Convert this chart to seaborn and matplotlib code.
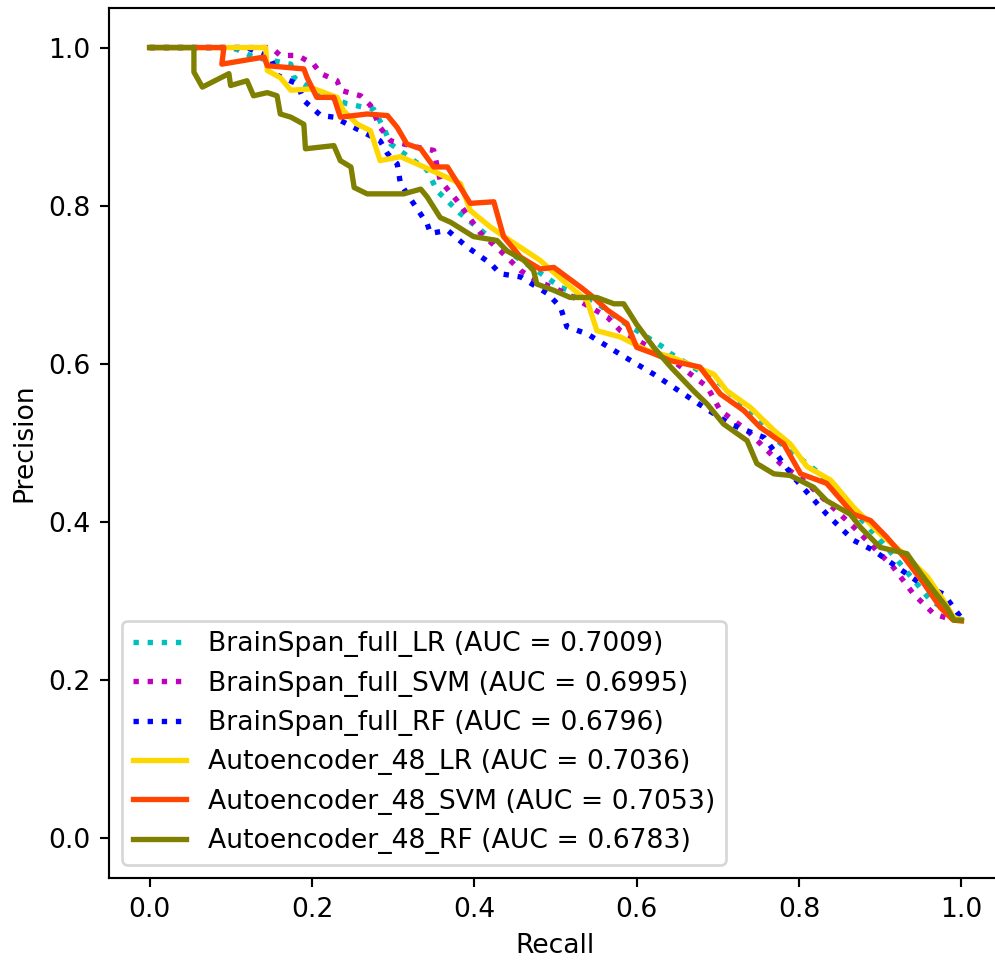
import pandas as pd
import matplotlib
matplotlib.use("Agg")
import matplotlib.pyplot as plt
import seaborn as sns

# --- curve values (recall, precision) ---
bs_lr_recall = [0.0, 0.10, 0.112, 0.128, 0.174, 0.178, 0.202, 0.243, 0.276, 0.288, 0.297, 0.342, 0.354,
                0.383, 0.408, 0.440, 0.477, 0.506, 0.547, 0.580, 0.633, 0.642, 0.703, 0.773, 0.826,
                0.908, 0.962, 0.995, 1.0]
bs_lr_prec = [1.0, 1.0, 0.996, 0.988, 0.979, 0.962, 0.946, 0.929, 0.922, 0.899, 0.878, 0.845, 0.819,
              0.790, 0.769, 0.743, 0.718, 0.697, 0.680, 0.655, 0.621, 0.613, 0.575, 0.503, 0.461,
              0.368, 0.301, 0.280, 0.276]

bs_svm_recall = [0.0, 0.15, 0.161, 0.182, 0.202, 0.211, 0.231, 0.235, 0.260, 0.272, 0.284, 0.297, 0.338,
                 0.350, 0.358, 0.379, 0.408, 0.432, 0.457, 0.477, 0.514, 0.564, 0.580, 0.642, 0.687,
                 0.703, 0.736, 0.777, 0.810, 0.867, 0.916, 0.941, 0.966, 0.99, 1.0]
bs_svm_prec = [1.0, 1.0, 0.990, 0.990, 0.979, 0.967, 0.958, 0.946, 0.939, 0.927, 0.899, 0.882, 0.872,
               0.870, 0.832, 0.806, 0.765, 0.743, 0.718, 0.705, 0.689, 0.659, 0.642, 0.606, 0.571,
               0.541, 0.516, 0.474, 0.449, 0.394, 0.343, 0.309, 0.284, 0.276, 0.276]

bs_rf_recall = [0.0, 0.12, 0.133, 0.149, 0.157, 0.182, 0.190, 0.211, 0.227, 0.284, 0.293, 0.305, 0.309,
                0.325, 0.342, 0.346, 0.367, 0.391, 0.420, 0.432, 0.457, 0.490, 0.506, 0.514, 0.539,
                0.580, 0.621, 0.683, 0.715, 0.757, 0.793, 0.834, 0.867, 0.892, 0.921, 0.950, 0.978,
                0.999, 1.0]
bs_rf_prec = [1.0, 1.0, 0.994, 0.988, 0.965, 0.954, 0.933, 0.914, 0.912, 0.882, 0.866, 0.853, 0.828,
              0.803, 0.777, 0.765, 0.769, 0.748, 0.727, 0.714, 0.710, 0.689, 0.672, 0.647, 0.638,
              0.612, 0.587, 0.545, 0.524, 0.507, 0.457, 0.410, 0.377, 0.364, 0.343, 0.322, 0.309,
              0.280, 0.277]

ae_lr_recall = [0.0, 0.143, 0.145, 0.161, 0.174, 0.202, 0.231, 0.239, 0.256, 0.272, 0.284, 0.309, 0.338,
                0.383, 0.395, 0.420, 0.444, 0.481, 0.514, 0.539, 0.551, 0.580, 0.613, 0.642, 0.695,
                0.711, 0.740, 0.769, 0.789, 0.810, 0.839, 0.867, 0.900, 0.929, 0.958, 0.978, 0.99, 1.0]
ae_lr_prec = [1.0, 1.0, 0.971, 0.962, 0.946, 0.948, 0.937, 0.920, 0.903, 0.895, 0.857, 0.862, 0.849,
              0.828, 0.794, 0.773, 0.756, 0.731, 0.701, 0.680, 0.642, 0.634, 0.617, 0.609, 0.587,
              0.566, 0.545, 0.516, 0.499, 0.470, 0.453, 0.419, 0.385, 0.360, 0.331, 0.301, 0.280, 0.276]

ae_svm_recall = [0.0, 0.0915, 0.089, 0.141, 0.145, 0.190, 0.194, 0.206, 0.227, 0.235, 0.268, 0.293, 0.305,
                 0.317, 0.334, 0.350, 0.367, 0.395, 0.424, 0.436, 0.457, 0.481, 0.498, 0.531, 0.547,
                 0.564, 0.588, 0.600, 0.621, 0.642, 0.678, 0.703, 0.732, 0.752, 0.781, 0.802, 0.834,
                 0.867, 0.888, 0.908, 0.929, 0.954, 0.974, 0.99, 1.0]
ae_svm_prec = [1.0, 1.0, 0.979, 0.988, 0.977, 0.973, 0.962, 0.937, 0.937, 0.912, 0.916, 0.914, 0.899,
               0.878, 0.872, 0.849, 0.849, 0.803, 0.805, 0.761, 0.735, 0.720, 0.722, 0.697, 0.684,
               0.668, 0.651, 0.621, 0.613, 0.604, 0.596, 0.562, 0.541, 0.520, 0.499, 0.461, 0.449,
               0.410, 0.402, 0.381, 0.356, 0.322, 0.292, 0.276, 0.275]

ae_rf_recall = [0.0, 0.0546, 0.0546, 0.065, 0.0977, 0.0998, 0.120, 0.128, 0.145, 0.157, 0.161, 0.174,
                0.190, 0.192, 0.227, 0.235, 0.248, 0.252, 0.268, 0.313, 0.334, 0.342, 0.358, 0.371,
                0.399, 0.428, 0.440, 0.461, 0.473, 0.477, 0.498, 0.518, 0.551, 0.572, 0.584, 0.600,
                0.621, 0.642, 0.670, 0.687, 0.707, 0.736, 0.748, 0.769, 0.789, 0.818, 0.834, 0.863,
                0.876, 0.900, 0.933, 0.950, 0.966, 0.982, 0.991, 1.0]
ae_rf_prec = [1.0, 1.0, 0.969, 0.950, 0.967, 0.952, 0.958, 0.939, 0.943, 0.939, 0.916, 0.912,
              0.903, 0.872, 0.876, 0.857, 0.849, 0.823, 0.815, 0.815, 0.821, 0.811, 0.785, 0.779,
              0.761, 0.756, 0.743, 0.731, 0.718, 0.701, 0.693, 0.684, 0.684, 0.676, 0.676, 0.650,
              0.621, 0.596, 0.566, 0.549, 0.524, 0.503, 0.474, 0.461, 0.459, 0.444, 0.427, 0.410,
              0.393, 0.368, 0.360, 0.335, 0.313, 0.292, 0.276, 0.276]

labels = ["BrainSpan_full_LR (AUC = 0.7009)", "BrainSpan_full_SVM (AUC = 0.6995)",
          "BrainSpan_full_RF (AUC = 0.6796)", "Autoencoder_48_LR (AUC = 0.7036)",
          "Autoencoder_48_SVM (AUC = 0.7053)", "Autoencoder_48_RF (AUC = 0.6783)"]
curves = [(bs_lr_recall, bs_lr_prec), (bs_svm_recall, bs_svm_prec), (bs_rf_recall, bs_rf_prec),
          (ae_lr_recall, ae_lr_prec), (ae_svm_recall, ae_svm_prec), (ae_rf_recall, ae_rf_prec)]
colors = ["c", "m", "b", "gold", "orangered", "olive"]
styles = [":", ":", ":", "-", "-", "-"]

DPI = 192
fig = plt.figure(figsize=(995 / DPI, 961 / DPI), dpi=DPI)
ax = fig.add_axes([109 / 995, 83 / 961, 893 / 995, 870 / 961])

for (rec, prec), lab, col, ls in zip(curves, labels, colors, styles):
    df = pd.DataFrame({"Recall": rec, "Precision": prec})
    sns.lineplot(data=df, x="Recall", y="Precision", sort=False, estimator=None,
                 color=col, linestyle=ls, linewidth=2, label=lab, ax=ax)

ax.set_xlim(-0.05, 1.05)
ax.set_ylim(-0.05, 1.05)
ax.set_xticks([0.0, 0.2, 0.4, 0.6, 0.8, 1.0])
ax.set_yticks([0.0, 0.2, 0.4, 0.6, 0.8, 1.0])
ax.set_xlabel("Recall")
ax.set_ylabel("Precision")
ax.legend(loc="lower left")

fig.savefig("out.png", dpi=DPI)
